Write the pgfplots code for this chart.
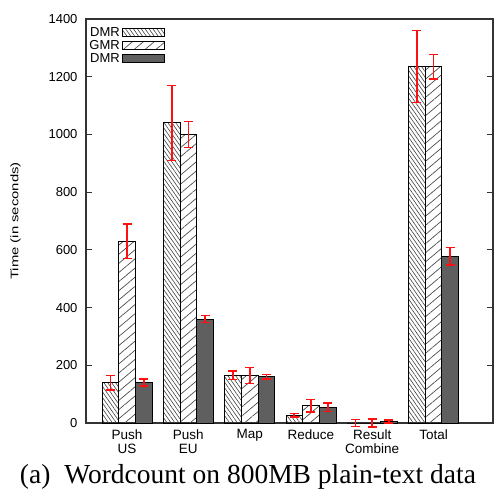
\documentclass[border=0pt]{standalone}
\usepackage{pgfplots}
\pgfplotsset{compat=1.18}
\usepackage{pgfplotstable}
\usepackage{fontspec}
\setmainfont{Liberation Sans}
\newfontfamily\capfont{Liberation Serif}
\usetikzlibrary{patterns.meta}

\pgfplotstableread{
x dmr dmre gmr gmre dmrb dmrbe
0 140 25 630 60 140 12
1 1040 130 1000 45 360 12
2 165 15 165 28 160 8
3 27 6 60 22 54 15
4 0 12 0 14 5 5
5 1235 125 1235 43 578 30
}\data

\definecolor{darkbar}{HTML}{5F5F5F}
\definecolor{errred}{HTML}{FF1010}
\pgfplotsset{myerr/.style={forget plot, draw=none, mark=none,
  error bars/.cd, y dir=both, y explicit,
  error bar style={draw=errred, line width=1.7pt, solid},
  error mark options={rotate=90, draw=errred, mark size=4.5pt, line width=1.4pt}}}

\begin{document}
\begin{tikzpicture}
\useasboundingbox (0,0) rectangle (495pt,491pt);
\begin{axis}[
  at={(86pt,68pt)}, anchor=south west,
  scale only axis, width=407pt, height=404pt,
  xmin=-0.67, xmax=5.97, ymin=0, ymax=1400,
  clip=false,
  bar width=16.7pt,
  ytick={0,200,...,1400},
  xtick={0,...,5},
  xticklabels={{Push\\US},{Push\\EU},Map,Reduce,{Result\\Combine},Total},
  xticklabel style={align=center, font=\fontsize{13.5}{14.5}\selectfont, yshift=-3pt},
  yticklabel style={font=\fontsize{13}{14}\selectfont, xshift=-5pt},
  /pgf/number format/assume math mode=true,
  /pgf/number format/set thousands separator={},
  major x tick style={draw=none},
  tick align=inside, major tick length=6pt,
  ytick pos=both,
  every tick/.style={black!80, line width=1pt},
  axis line style={line width=1.2pt, black!80},
  ylabel={Time (in seconds)},
  ylabel style={at={(axis description cs:-0.173,0.5)}, anchor=center, xscale=1.35, font=\fontsize{11}{12}\selectfont},
  legend style={at={(axis description cs:0.003,0.985)}, anchor=north west, draw=none, fill=none,
    font=\fontsize{13}{14}\selectfont, row sep=-1.5pt, inner sep=0pt, cells={anchor=east}},
  legend plot pos=right,
  legend image code/.code={\draw[#1, draw=black, line width=0.8pt] (0pt,-4pt) rectangle (42pt,4pt);},
]
\addplot[ybar, bar shift=-16.7pt, draw=black, line width=0.8pt, pattern={Lines[angle=-55,distance=3.2pt,line width=0.6pt]}, pattern color=black!75]
  table[x=x, y=dmr] {\data};
\addlegendentry{DMR}
\addplot[ybar, bar shift=0pt, draw=black, line width=0.8pt, pattern={Lines[angle=40,distance=7pt,line width=0.7pt]}, pattern color=black!70]
  table[x=x, y=gmr] {\data};
\addlegendentry{GMR}
\addplot[ybar, bar shift=16.7pt, draw=black, line width=0.8pt, fill=darkbar]
  table[x=x, y=dmrb] {\data};
\addlegendentry{DMR}
\addplot[myerr] table[x expr=\thisrow{x}-0.2724, y=dmr, y error=dmre] {\data};
\addplot[myerr] table[x=x, y=gmr, y error=gmre] {\data};
\addplot[myerr] table[x expr=\thisrow{x}+0.2724, y=dmrb, y error=dmrbe] {\data};
\end{axis}
\node[font=\capfont\fontsize{27.5}{30}\selectfont, anchor=base] at (248pt,8pt) {(a)\ \ Wordcount on 800MB plain-text data};
\end{tikzpicture}
\end{document}
